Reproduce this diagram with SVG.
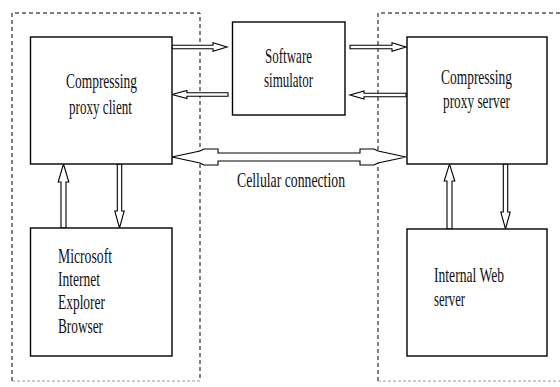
<svg xmlns="http://www.w3.org/2000/svg" width="560" height="387" viewBox="0 0 560 387">
  <style>
    .bg { fill: #ffffff; }
    .zone { fill: none; stroke: #000; stroke-width: 1; stroke-dasharray: 4 3; }
    .zone-base { fill: none; stroke: #9a9a9a; stroke-width: 1; stroke-dasharray: 3 2; }
    .box { fill: #ffffff; stroke: #000; stroke-width: 1.4; }
    .arrow { fill: #ffffff; stroke: #000; stroke-width: 1.1; stroke-linejoin: miter; }
    .lbl { font-family: "Liberation Serif", "Times New Roman", serif; font-size: 21px; fill: #111; }
  </style>

  <rect class="bg" x="0" y="0" width="560" height="387"/>

  <!-- client-side and server-side zones -->
  <g id="zone-client">
    <path class="zone" d="M12,381 L12,13 L200,13 L200,381"/>
    <path class="zone-base" d="M12,381 L200,381"/>
  </g>
  <g id="zone-server">
    <path class="zone" d="M378,381 L378,13 L560,13"/>
    <path class="zone-base" d="M378,381 L560,381"/>
  </g>

  <!-- connectors -->
  <g id="connectors">
    <!-- client -> simulator -->
    <polygon class="arrow" points="172,45.2 213,45.2 213,42.8 227,47 213,51.2 213,48.8 172,48.8"/>
    <!-- simulator -> client -->
    <polygon class="arrow" points="228,92.7 187,92.7 187,90.5 172,94.5 187,98.5 187,96.3 228,96.3"/>
    <!-- simulator -> server -->
    <polygon class="arrow" points="350,45.2 392,45.2 392,42.8 406,47 392,51.2 392,48.8 350,48.8"/>
    <!-- server -> simulator -->
    <polygon class="arrow" points="406,93.2 364,93.2 364,91 350,95 364,99 364,96.8 406,96.8"/>
    <!-- cellular connection (bidirectional) -->
    <polygon class="arrow" points="172,157 200,151 204,149 218,149 218,153 360,153 360,149 374,149 378,151 406,157 378,163 374,165 360,165 360,161 218,161 218,165 204,165 200,163"/>
    <!-- browser -> client -->
    <polygon class="arrow" points="61,228 61,182 58.2,182 63.5,164 68.8,182 66,182 66,228"/>
    <!-- client -> browser -->
    <polygon class="arrow" points="117.3,164 117.3,211 114.8,211 119.5,228 124.2,211 121.7,211 121.7,164"/>
    <!-- web server -> proxy server -->
    <polygon class="arrow" points="447,229 447,181 444.2,181 449.5,164 454.8,181 452,181 452,229"/>
    <!-- proxy server -> web server -->
    <polygon class="arrow" points="503.3,164 503.3,212 500.8,212 505.5,229 510.2,212 507.7,212 507.7,164"/>
  </g>

  <g id="proxy-client">
    <rect class="box" x="30.5" y="37" width="141.5" height="127"/>
    <text class="lbl" x="66" y="88" textLength="71" lengthAdjust="spacingAndGlyphs">Compressing</text>
    <text class="lbl" x="69" y="114" textLength="63" lengthAdjust="spacingAndGlyphs">proxy client</text>
  </g>

  <g id="simulator">
    <rect class="box" x="232.5" y="22" width="112.5" height="93"/>
    <text class="lbl" x="265" y="63" font-size="19" textLength="47" lengthAdjust="spacingAndGlyphs">Software</text>
    <text class="lbl" x="264" y="87" font-size="19" textLength="49" lengthAdjust="spacingAndGlyphs">simulator</text>
  </g>

  <g id="proxy-server">
    <rect class="box" x="407" y="37" width="140" height="127"/>
    <text class="lbl" x="441" y="84" textLength="71" lengthAdjust="spacingAndGlyphs">Compressing</text>
    <text class="lbl" x="443" y="108" textLength="67" lengthAdjust="spacingAndGlyphs">proxy server</text>
  </g>

  <g id="browser">
    <rect class="box" x="30.5" y="228" width="141.5" height="128"/>
    <text class="lbl" x="58" y="263" textLength="54" lengthAdjust="spacingAndGlyphs">Microsoft</text>
    <text class="lbl" x="58" y="286" textLength="42" lengthAdjust="spacingAndGlyphs">Internet</text>
    <text class="lbl" x="58" y="309" textLength="47" lengthAdjust="spacingAndGlyphs">Explorer</text>
    <text class="lbl" x="58" y="333" textLength="45" lengthAdjust="spacingAndGlyphs">Browser</text>
  </g>

  <g id="web-server">
    <rect class="box" x="407" y="229" width="140" height="127"/>
    <text class="lbl" x="434" y="282" textLength="70" lengthAdjust="spacingAndGlyphs">Internal Web</text>
    <text class="lbl" x="434" y="306" font-size="18" textLength="31" lengthAdjust="spacingAndGlyphs">server</text>
  </g>

  <g id="cellular-label">
    <text class="lbl" x="237" y="187" font-size="18" textLength="108" lengthAdjust="spacingAndGlyphs">Cellular connection</text>
  </g>
</svg>
